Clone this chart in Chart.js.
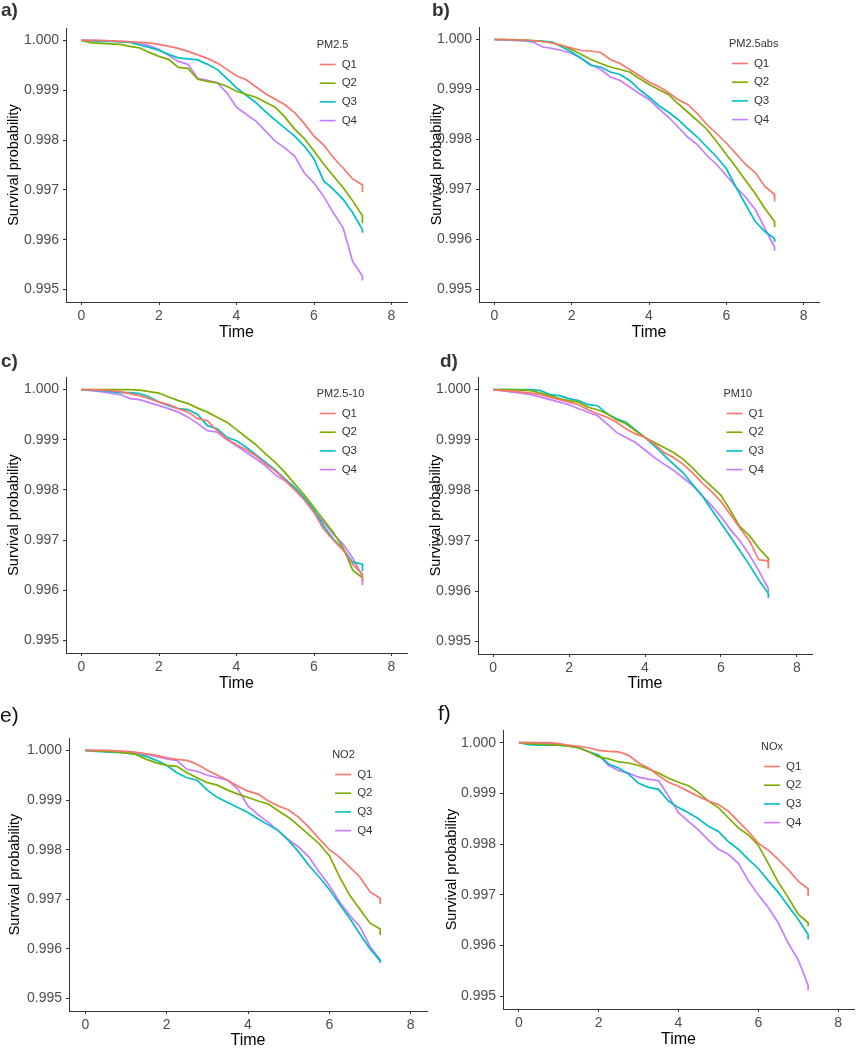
<!DOCTYPE html>
<html>
<head>
<meta charset="utf-8">
<script src="https://cdn.jsdelivr.net/npm/chart.js"></script>
<style>
  body { margin: 0; width: 856px; height: 1050px; background: #fff; position: relative; overflow: hidden;
         font-family: "Liberation Sans", Arial, sans-serif; }
  canvas { position: absolute; }
  .tag { position: absolute; line-height: 1; color: #333; }
</style>
</head>
<body>
<script>
// follow-up time (years); last point repeated for the final drop
const time = [0, 0.25, 0.5, 0.75, 1, 1.25, 1.5, 1.75, 2, 2.25, 2.5, 2.75, 3, 3.25, 3.5, 3.75,
  4, 4.25, 4.5, 4.75, 5, 5.25, 5.5, 5.75, 6, 6.25, 6.5, 6.75, 7, 7.25, 7.25];
const quartiles = ["Q1", "Q2", "Q3", "Q4"];
const pollutants = ["PM2.5", "PM2.5abs", "PM2.5-10", "PM10", "NO2", "NOx"];
const tags = ["a)", "b)", "c)", "d)", "e)", "f)"];
const xTicks = [0, 2, 4, 6, 8];
const yTicks = [0.995, 0.996, 0.997, 0.998, 0.999, 1.000];

// a) PM2.5
const pm25Q1 = [1, 1, 1, 0.99999, 0.99998, 0.99997, 0.99996, 0.99995, 0.99992, 0.99988, 0.99984, 0.99978, 0.99971, 0.99964, 0.99955, 0.99942, 0.99929, 0.99921, 0.99907, 0.99893, 0.99882, 0.99871, 0.99855, 0.99833, 0.99808, 0.99790, 0.99765, 0.99744, 0.99722, 0.99710, 0.99696];
const pm25Q2 = [1, 0.99995, 0.99994, 0.99993, 0.99992, 0.99988, 0.99985, 0.99976, 0.99968, 0.99962, 0.99946, 0.99944, 0.99922, 0.99918, 0.99915, 0.99908, 0.99898, 0.99892, 0.99886, 0.99876, 0.99866, 0.99846, 0.99822, 0.99803, 0.99778, 0.99752, 0.99728, 0.99705, 0.99678, 0.99648, 0.99633];
const pm25Q3 = [1, 0.99999, 0.99998, 0.99998, 0.99997, 0.99996, 0.99991, 0.99986, 0.99980, 0.99972, 0.99965, 0.99963, 0.99961, 0.99952, 0.99942, 0.99924, 0.99905, 0.99890, 0.99875, 0.99857, 0.99840, 0.99824, 0.99808, 0.99788, 0.99762, 0.99718, 0.99701, 0.99681, 0.99654, 0.99620, 0.99614];
const pm25Q4 = [1, 1, 0.99999, 0.99999, 0.99998, 0.99997, 0.99995, 0.99990, 0.99982, 0.99970, 0.99958, 0.99952, 0.99924, 0.99920, 0.99915, 0.99895, 0.99866, 0.99852, 0.99838, 0.99818, 0.99798, 0.99784, 0.99768, 0.99734, 0.99714, 0.99687, 0.99654, 0.99624, 0.99556, 0.99527, 0.99518];

// b) PM2.5abs
const absQ1 = [1, 1, 0.99999, 0.99999, 0.99998, 0.99996, 0.99993, 0.99988, 0.99983, 0.99978, 0.99977, 0.99974, 0.99960, 0.99952, 0.99940, 0.99928, 0.99915, 0.99906, 0.99894, 0.99880, 0.99870, 0.99852, 0.99830, 0.99812, 0.99793, 0.99772, 0.99750, 0.99734, 0.99706, 0.99690, 0.99676];
const absQ2 = [1, 1, 1, 0.99999, 0.99998, 0.99996, 0.99993, 0.99988, 0.99980, 0.99970, 0.99960, 0.99952, 0.99945, 0.99940, 0.99935, 0.99922, 0.99910, 0.99900, 0.99890, 0.99872, 0.99855, 0.99838, 0.99820, 0.99796, 0.99770, 0.99745, 0.99718, 0.99692, 0.99662, 0.99636, 0.99625];
const absQ3 = [1, 1, 0.99999, 0.99998, 0.99997, 0.99997, 0.99995, 0.99985, 0.99975, 0.99962, 0.99948, 0.99945, 0.99935, 0.99930, 0.99918, 0.99900, 0.99885, 0.99868, 0.99855, 0.99840, 0.99822, 0.99805, 0.99785, 0.99765, 0.99742, 0.99705, 0.99670, 0.99636, 0.99616, 0.99602, 0.99595];
const absQ4 = [1, 0.99999, 0.99998, 0.99997, 0.99995, 0.99985, 0.99982, 0.99978, 0.99972, 0.99962, 0.99950, 0.99940, 0.99925, 0.99918, 0.99905, 0.99892, 0.99880, 0.99862, 0.99845, 0.99825, 0.99805, 0.99790, 0.99768, 0.99750, 0.99728, 0.99705, 0.99685, 0.99660, 0.99622, 0.99585, 0.99577];

// c) PM2.5-10
const coarseQ1 = [1, 1, 0.99999, 0.99998, 0.99996, 0.99992, 0.99988, 0.99982, 0.99975, 0.99970, 0.99962, 0.99955, 0.99942, 0.99938, 0.99918, 0.99902, 0.99890, 0.99880, 0.99868, 0.99852, 0.99838, 0.99820, 0.99800, 0.99780, 0.99755, 0.99722, 0.99700, 0.99680, 0.99652, 0.99632, 0.99618];
const coarseQ2 = [1, 1, 1, 1, 1, 1, 0.99999, 0.99996, 0.99993, 0.99985, 0.99978, 0.99972, 0.99963, 0.99955, 0.99945, 0.99935, 0.99920, 0.99905, 0.99890, 0.99872, 0.99855, 0.99835, 0.99812, 0.99790, 0.99765, 0.99740, 0.99715, 0.99685, 0.99640, 0.99625, 0.99625];
const coarseQ3 = [1, 0.99999, 0.99998, 0.99996, 0.99994, 0.99994, 0.99992, 0.99985, 0.99975, 0.99968, 0.99962, 0.99960, 0.99950, 0.99928, 0.99922, 0.99905, 0.99898, 0.99885, 0.99870, 0.99855, 0.99840, 0.99822, 0.99805, 0.99785, 0.99760, 0.99728, 0.99702, 0.99682, 0.99656, 0.99652, 0.99638];
const coarseQ4 = [1, 0.99998, 0.99996, 0.99993, 0.99990, 0.99982, 0.99980, 0.99974, 0.99968, 0.99962, 0.99955, 0.99945, 0.99932, 0.99918, 0.99915, 0.99900, 0.99888, 0.99875, 0.99862, 0.99848, 0.99830, 0.99818, 0.99802, 0.99782, 0.99758, 0.99735, 0.99712, 0.99692, 0.99664, 0.99628, 0.99610];

// d) PM10
const pm10Q1 = [1, 0.99998, 0.99997, 0.99995, 0.99993, 0.99990, 0.99985, 0.99980, 0.99975, 0.99970, 0.99960, 0.99952, 0.99945, 0.99935, 0.99922, 0.99912, 0.99905, 0.99892, 0.99875, 0.99865, 0.99852, 0.99835, 0.99815, 0.99798, 0.99778, 0.99752, 0.99725, 0.99700, 0.99662, 0.99660, 0.99645];
const pm10Q2 = [1, 1, 1, 0.99999, 0.99998, 0.99993, 0.99988, 0.99982, 0.99978, 0.99975, 0.99965, 0.99960, 0.99952, 0.99940, 0.99932, 0.99918, 0.99905, 0.99895, 0.99885, 0.99875, 0.99862, 0.99845, 0.99825, 0.99808, 0.99790, 0.99760, 0.99728, 0.99710, 0.99685, 0.99665, 0.99655];
const pm10Q3 = [1, 1, 1, 1, 1, 0.99998, 0.99990, 0.99988, 0.99982, 0.99978, 0.99970, 0.99968, 0.99952, 0.99942, 0.99935, 0.99920, 0.99905, 0.99888, 0.99870, 0.99852, 0.99835, 0.99812, 0.99790, 0.99762, 0.99735, 0.99708, 0.99680, 0.99652, 0.99622, 0.99595, 0.99586];
const pm10Q4 = [1, 0.99998, 0.99995, 0.99993, 0.99990, 0.99985, 0.99980, 0.99975, 0.99970, 0.99962, 0.99955, 0.99948, 0.99932, 0.99915, 0.99905, 0.99895, 0.99880, 0.99865, 0.99852, 0.99840, 0.99825, 0.99810, 0.99790, 0.99770, 0.99748, 0.99722, 0.99700, 0.99672, 0.99640, 0.99605, 0.99598];

// e) NO2
const no2Q1 = [1, 1, 1, 0.99999, 0.99998, 0.99996, 0.99993, 0.99990, 0.99985, 0.99982, 0.99980, 0.99972, 0.99960, 0.99950, 0.99940, 0.99928, 0.99918, 0.99912, 0.99898, 0.99888, 0.99880, 0.99865, 0.99845, 0.99822, 0.99800, 0.99785, 0.99765, 0.99745, 0.99715, 0.99702, 0.99690];
const no2Q2 = [1, 0.99999, 0.99998, 0.99997, 0.99995, 0.99992, 0.99982, 0.99975, 0.99970, 0.99968, 0.99955, 0.99945, 0.99935, 0.99930, 0.99920, 0.99912, 0.99905, 0.99898, 0.99892, 0.99878, 0.99865, 0.99848, 0.99830, 0.99812, 0.99788, 0.99745, 0.99708, 0.99680, 0.99652, 0.99640, 0.99628];
const no2Q3 = [1, 0.99998, 0.99997, 0.99996, 0.99995, 0.99992, 0.99988, 0.99980, 0.99970, 0.99955, 0.99945, 0.99940, 0.99920, 0.99905, 0.99895, 0.99885, 0.99875, 0.99862, 0.99850, 0.99838, 0.99818, 0.99795, 0.99768, 0.99745, 0.99720, 0.99690, 0.99662, 0.99630, 0.99600, 0.99576, 0.99572];
const no2Q4 = [1, 1, 0.99999, 0.99998, 0.99997, 0.99995, 0.99992, 0.99988, 0.99983, 0.99980, 0.99962, 0.99958, 0.99950, 0.99945, 0.99940, 0.99922, 0.99888, 0.99870, 0.99855, 0.99838, 0.99820, 0.99805, 0.99785, 0.99755, 0.99728, 0.99695, 0.99668, 0.99645, 0.99605, 0.99578, 0.99572];

// f) NOx
const noxQ1 = [1, 1, 1, 1, 0.99998, 0.99995, 0.99993, 0.99990, 0.99985, 0.99983, 0.99982, 0.99975, 0.99960, 0.99950, 0.99935, 0.99922, 0.99914, 0.99904, 0.99894, 0.99885, 0.99878, 0.99865, 0.99845, 0.99825, 0.99802, 0.99788, 0.99770, 0.99750, 0.99727, 0.99712, 0.99698];
const noxQ2 = [1, 0.99998, 0.99997, 0.99996, 0.99995, 0.99993, 0.99990, 0.99982, 0.99972, 0.99968, 0.99962, 0.99960, 0.99955, 0.99948, 0.99940, 0.99930, 0.99922, 0.99915, 0.99902, 0.99885, 0.99872, 0.99852, 0.99832, 0.99818, 0.99798, 0.99762, 0.99725, 0.99695, 0.99662, 0.99645, 0.99638];
const noxQ3 = [1, 0.99996, 0.99995, 0.99995, 0.99995, 0.99993, 0.99990, 0.99982, 0.99975, 0.99958, 0.99950, 0.99938, 0.99920, 0.99912, 0.99908, 0.99885, 0.99872, 0.99862, 0.99850, 0.99835, 0.99825, 0.99805, 0.99790, 0.99770, 0.99752, 0.99728, 0.99705, 0.99678, 0.99652, 0.99622, 0.99612];
const noxQ4 = [1, 1, 0.99999, 0.99998, 0.99997, 0.99994, 0.99990, 0.99982, 0.99975, 0.99955, 0.99945, 0.99940, 0.99932, 0.99928, 0.99925, 0.99895, 0.99862, 0.99845, 0.99828, 0.99808, 0.99790, 0.99780, 0.99762, 0.99728, 0.99700, 0.99675, 0.99645, 0.99605, 0.99572, 0.99522, 0.99512];

const series = [
  [pm25Q1, pm25Q2, pm25Q3, pm25Q4],
  [absQ1, absQ2, absQ3, absQ4],
  [coarseQ1, coarseQ2, coarseQ3, coarseQ4],
  [pm10Q1, pm10Q2, pm10Q3, pm10Q4],
  [no2Q1, no2Q2, no2Q3, no2Q4],
  [noxQ1, noxQ2, noxQ3, noxQ4],
];

// ggplot default hues for 4 groups
const colors = ["#F8766D", "#7CAE00", "#00BFC4", "#C77CFF"];

// plot area of each panel in page pixels, y-title centre x, x-title centre y, tag spot
const boxes = [
  { L: 66,  R: 407, T: 28,  B: 302,  yt: 13,  xt: 332,  tx: 1,   ty: 0,   bold: true,  fs: 19 },
  { L: 479, R: 819, T: 27,  B: 302,  yt: 436, xt: 332,  tx: 432, ty: 0,   bold: true,  fs: 19 },
  { L: 66,  R: 407, T: 377, B: 653,  yt: 13,  xt: 683,  tx: 1,   ty: 351, bold: true,  fs: 19 },
  { L: 478, R: 812, T: 377, B: 654,  yt: 435, xt: 683,  tx: 440, ty: 351, bold: true,  fs: 19 },
  { L: 69,  R: 427, T: 738, B: 1011, yt: 14,  xt: 1040, tx: 0,   ty: 704, bold: false, fs: 21 },
  { L: 503, R: 854, T: 730, B: 1009, yt: 451, xt: 1039, tx: 438, ty: 702, bold: false, fs: 21 },
];

const FONT = '"Liberation Sans", Arial, sans-serif';

// legend drawn inside the plot like ggplot's inset legend
const insetLegend = {
  id: "insetLegend",
  afterDraw(chart, args, opts) {
    const { ctx, chartArea: a } = chart;
    const x0 = a.left + 0.735 * (a.right - a.left);
    ctx.save();
    ctx.textBaseline = "middle";
    ctx.textAlign = "left";
    ctx.fillStyle = "#333";
    ctx.font = "11px " + FONT;
    ctx.fillText(opts.title, x0, a.top + 16.5);
    ctx.font = "11.5px " + FONT;
    chart.data.datasets.forEach((ds, i) => {
      const y = a.top + 36.5 + i * 18.7;
      ctx.strokeStyle = ds.borderColor;
      ctx.lineWidth = 1.6;
      ctx.beginPath();
      ctx.moveTo(x0 + 3, y);
      ctx.lineTo(x0 + 19, y);
      ctx.stroke();
      ctx.fillStyle = "#333";
      ctx.fillText(ds.label, x0 + 25, y);
    });
    ctx.restore();
  },
};

boxes.forEach((b, p) => {
  const padTop = 20, padRight = 2;
  const left = Math.round(b.yt - 12.4);
  const top = b.T - padTop;
  const yW = b.L - left;
  const xH = Math.round(b.xt + 13.6 - b.B);
  const w = b.R - left + padRight;
  const h = b.B - top + xH;

  const cv = document.createElement("canvas");
  cv.width = w; cv.height = h;
  cv.style.left = left + "px"; cv.style.top = top + "px";
  cv.style.width = w + "px"; cv.style.height = h + "px";
  document.body.appendChild(cv);

  const tag = document.createElement("div");
  tag.className = "tag";
  tag.textContent = tags[p];
  tag.style.left = b.tx + "px"; tag.style.top = b.ty + "px";
  tag.style.fontSize = b.fs + "px";
  tag.style.fontWeight = b.bold ? "bold" : "normal";
  if (!b.bold) tag.style.color = "#111";
  document.body.appendChild(tag);

  const tickFont = { family: FONT, size: 14 };
  new Chart(cv, {
    type: "line",
    data: {
      datasets: series[p].map((vals, i) => ({
        label: quartiles[i],
        data: time.map((t, k) => ({ x: t, y: vals[k] })),
        borderColor: colors[i],
        borderWidth: 1.7,
        pointRadius: 0,
        tension: 0,
        fill: false,
      })),
    },
    options: {
      responsive: false,
      animation: false,
      layout: { padding: { top: padTop, right: padRight, left: 0, bottom: 0 } },
      plugins: {
        legend: { display: false },
        tooltip: { enabled: false },
        insetLegend: { title: pollutants[p] },
      },
      scales: {
        x: {
          type: "linear",
          min: -0.4, max: 8.4,
          afterFit: (s) => { s.height = xH; },
          afterBuildTicks: (s) => { s.ticks = xTicks.map((v) => ({ value: v })); },
          ticks: { font: tickFont, color: "#4D4D4D", padding: 3, maxRotation: 0,
                   callback: (v) => String(v) },
          grid: { drawOnChartArea: false, drawTicks: true, tickLength: 3, color: "#333" },
          border: { display: true, color: "#333", width: 1 },
          title: { display: true, text: "Time", color: "#000",
                   font: { family: FONT, size: 16 }, padding: { top: 0, bottom: 4 } },
        },
        y: {
          type: "linear",
          min: 0.99475, max: 1.00025,
          afterFit: (s) => { s.width = yW; },
          afterBuildTicks: (s) => { s.ticks = yTicks.map((v) => ({ value: v })); },
          ticks: { font: tickFont, color: "#4D4D4D", padding: 4,
                   callback: (v) => v.toFixed(3) },
          grid: { drawOnChartArea: false, drawTicks: true, tickLength: 3, color: "#333" },
          border: { display: true, color: "#333", width: 1 },
          title: { display: true, text: "Survival probability", color: "#000",
                   font: { family: FONT, size: 14.5 }, padding: { top: 4, bottom: 0 } },
        },
      },
    },
    plugins: [insetLegend],
  });
});
</script>
</body>
</html>
